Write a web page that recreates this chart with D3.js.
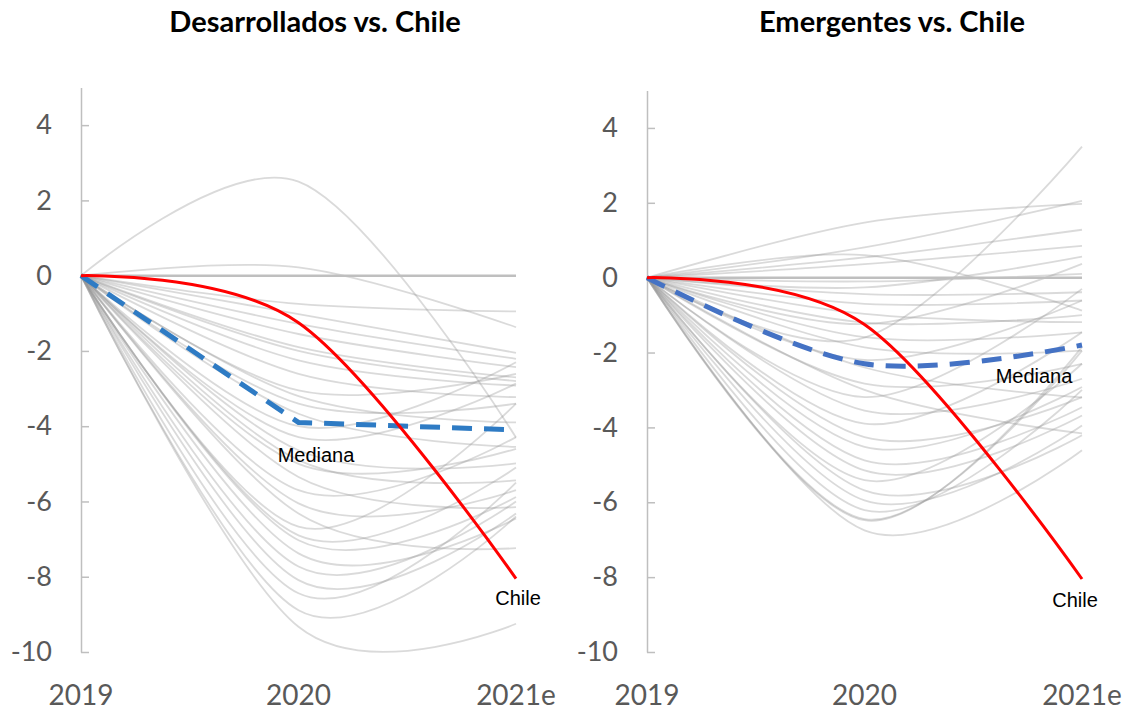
<!DOCTYPE html>
<html>
<head>
<meta charset="utf-8">
<script src="https://cdn.jsdelivr.net/npm/d3@7"></script>
<style>
  body { margin: 0; background: #fff; }
</style>
</head>
<body>
<div id="chart"></div>
<script>
// years on the x axis
const years = ["2019", "2020", "2021e"];
const yTicks = [-10, -8, -6, -4, -2, 0, 2, 4];

// developed economies: value in 2020 and 2021e (2019 = 0 for all)
const dev2020 = [2.5, 0.22, -0.75, -1.02, -1.28, -1.55, -1.9, -2.25, -2.61, -3.05, -3.4, -3.67, -4.29, -4.64, -4.9,
  -5.35, -5.7, -6.05, -6.32, -6.67, -7.03, -7.38, -7.73, -8.09, -8.44, -8.89, -9.33, -5.0, -3.2, -2.0, -4.0, -6.9];
const dev2021 = [-4.3, -1.37, -0.95, -2.05, -2.21, -2.43, -2.7, -2.92, -3.23, -2.61, -3.4, -4.55, -2.87, -4.99, -5.44,
  -6.15, -4.29, -5.7, -7.24, -3.4, -5.88, -6.45, -6.0, -6.32, -5.5, -6.4, -9.25, -4.6, -3.9, -2.8, -2.3, -5.1];

// emerging economies
const eme2020 = [1.47, 0.81, 0.54, 0.36, 0.6, -0.26, -0.44, -0.7, -0.97, -1.24, -1.59, -1.86, -1.6, -2.83, -3.19,
  -3.55, -3.9, -4.26, -4.52, -4.88, -5.15, -5.41, -5.68, -5.95, -6.21, -6.48, -6.45, -6.75, -2.2, -1.2, -2.4, -3.0, -0.1];
const eme2021 = [1.97, 2.05, 1.28, 0.85, -0.88, 0.56, -0.39, -0.61, -1.19, 0.37, -1.46, -1.95, 3.5, -2.3, -0.3,
  -2.7, -1.46, -3.19, -2.92, -3.46, -3.68, -2.3, -4.21, -3.95, -3.0, -1.85, -1.95, -4.61, -0.61, -1.0, -3.2, -4.16, 0.1];

const chile = [0, -1.25, -8.05];
const devMedian = [0, -3.9, -4.1];
const emeMedian = [0, -2.3, -1.8];

const width = 1126, height = 711;
const svg = d3.select("#chart").append("svg")
  .attr("width", width)
  .attr("height", height);

const panels = [
  { title: "Desarrollados vs. Chile", titleX: 315, x0: 81, x1: 516, yTop: 87.5,
    g2020: dev2020, g2021: dev2021, median: devMedian, medColor: "#2e7bc4", medSmooth: false,
    medLabel: [316, 457], chileLabel: [518, 600] },
  { title: "Emergentes vs. Chile", titleX: 892, x0: 647, x1: 1082, yTop: 90.5,
    g2020: eme2020, g2021: eme2021, median: emeMedian, medColor: "#4472c4", medSmooth: true,
    medLabel: [1034, 378], chileLabel: [1075, 602] }
];

const font = "Lato, 'Open Sans', sans-serif";

panels.forEach(p => {
  const g = svg.append("g");

  const x = d3.scalePoint().domain(years).range([p.x0, p.x1]);
  const y = d3.scaleLinear().domain([-10, 5]).range([652, p.yTop]);

  const line = d3.line()
    .x((d, i) => x(years[i]))
    .y(d => y(d))
    .curve(d3.curveCardinal.tension(0));

  // title
  g.append("text")
    .attr("x", p.titleX)
    .attr("y", 32)
    .attr("text-anchor", "middle")
    .attr("font-family", font)
    .attr("font-weight", "bold")
    .attr("font-size", "29px")
    .attr("fill", "#000")
    .text(p.title);

  // y axis
  const yAxis = g.append("g")
    .attr("transform", `translate(${p.x0},0)`)
    .call(d3.axisLeft(y).tickValues(yTicks).tickFormat(d => String(d))
      .tickSize(-8).tickSizeOuter(0).tickPadding(29));
  yAxis.select(".domain").attr("stroke", "#bfbfbf").attr("stroke-width", 1.5);
  yAxis.selectAll(".tick line").attr("stroke", "#bfbfbf").attr("stroke-width", 1.5);
  yAxis.selectAll(".tick text")
    .attr("font-family", font)
    .attr("font-size", "27px")
    .attr("fill", "#595959");

  // x labels
  g.selectAll(".xlab")
    .data(years)
    .enter()
    .append("text")
    .attr("class", "xlab")
    .attr("x", d => x(d))
    .attr("y", 705)
    .attr("text-anchor", "middle")
    .attr("font-family", font)
    .attr("font-size", "28px")
    .attr("fill", "#595959")
    .text(d => d);

  // gray country lines
  const grays = p.g2020.map((v, i) => [0, v, p.g2021[i]]);
  g.selectAll(".country")
    .data(grays)
    .enter()
    .append("path")
    .attr("class", "country")
    .attr("d", line)
    .attr("fill", "none")
    .attr("stroke", "rgb(150,150,150)")
    .attr("stroke-opacity", 0.35)
    .attr("stroke-width", 1.8);

  // zero line
  g.append("line")
    .attr("x1", x(years[0]))
    .attr("x2", x(years[2]))
    .attr("y1", y(0))
    .attr("y2", y(0))
    .attr("stroke", "#bfbfbf")
    .attr("stroke-width", 2.5);

  // median
  const medLine = d3.line()
    .x((d, i) => x(years[i]))
    .y(d => y(d))
    .curve(p.medSmooth ? d3.curveCardinal.tension(0) : d3.curveLinear);
  g.append("path")
    .datum(p.median)
    .attr("d", medLine)
    .attr("fill", "none")
    .attr("stroke", p.medColor)
    .attr("stroke-width", 5)
    .attr("stroke-dasharray", "20,12");

  // chile
  g.append("path")
    .datum(chile)
    .attr("d", line)
    .attr("fill", "none")
    .attr("stroke", "#ff0000")
    .attr("stroke-width", 3);

  // labels
  g.append("text")
    .attr("x", p.medLabel[0])
    .attr("y", p.medLabel[1])
    .attr("text-anchor", "middle")
    .attr("dominant-baseline", "middle")
    .attr("font-family", "'Liberation Sans', Arial, sans-serif")
    .attr("font-size", "20px")
    .attr("fill", "#000")
    .text("Mediana");

  g.append("text")
    .attr("x", p.chileLabel[0])
    .attr("y", p.chileLabel[1])
    .attr("text-anchor", "middle")
    .attr("dominant-baseline", "middle")
    .attr("font-family", "'Liberation Sans', Arial, sans-serif")
    .attr("font-size", "20px")
    .attr("fill", "#000")
    .text("Chile");
});
</script>
</body>
</html>
